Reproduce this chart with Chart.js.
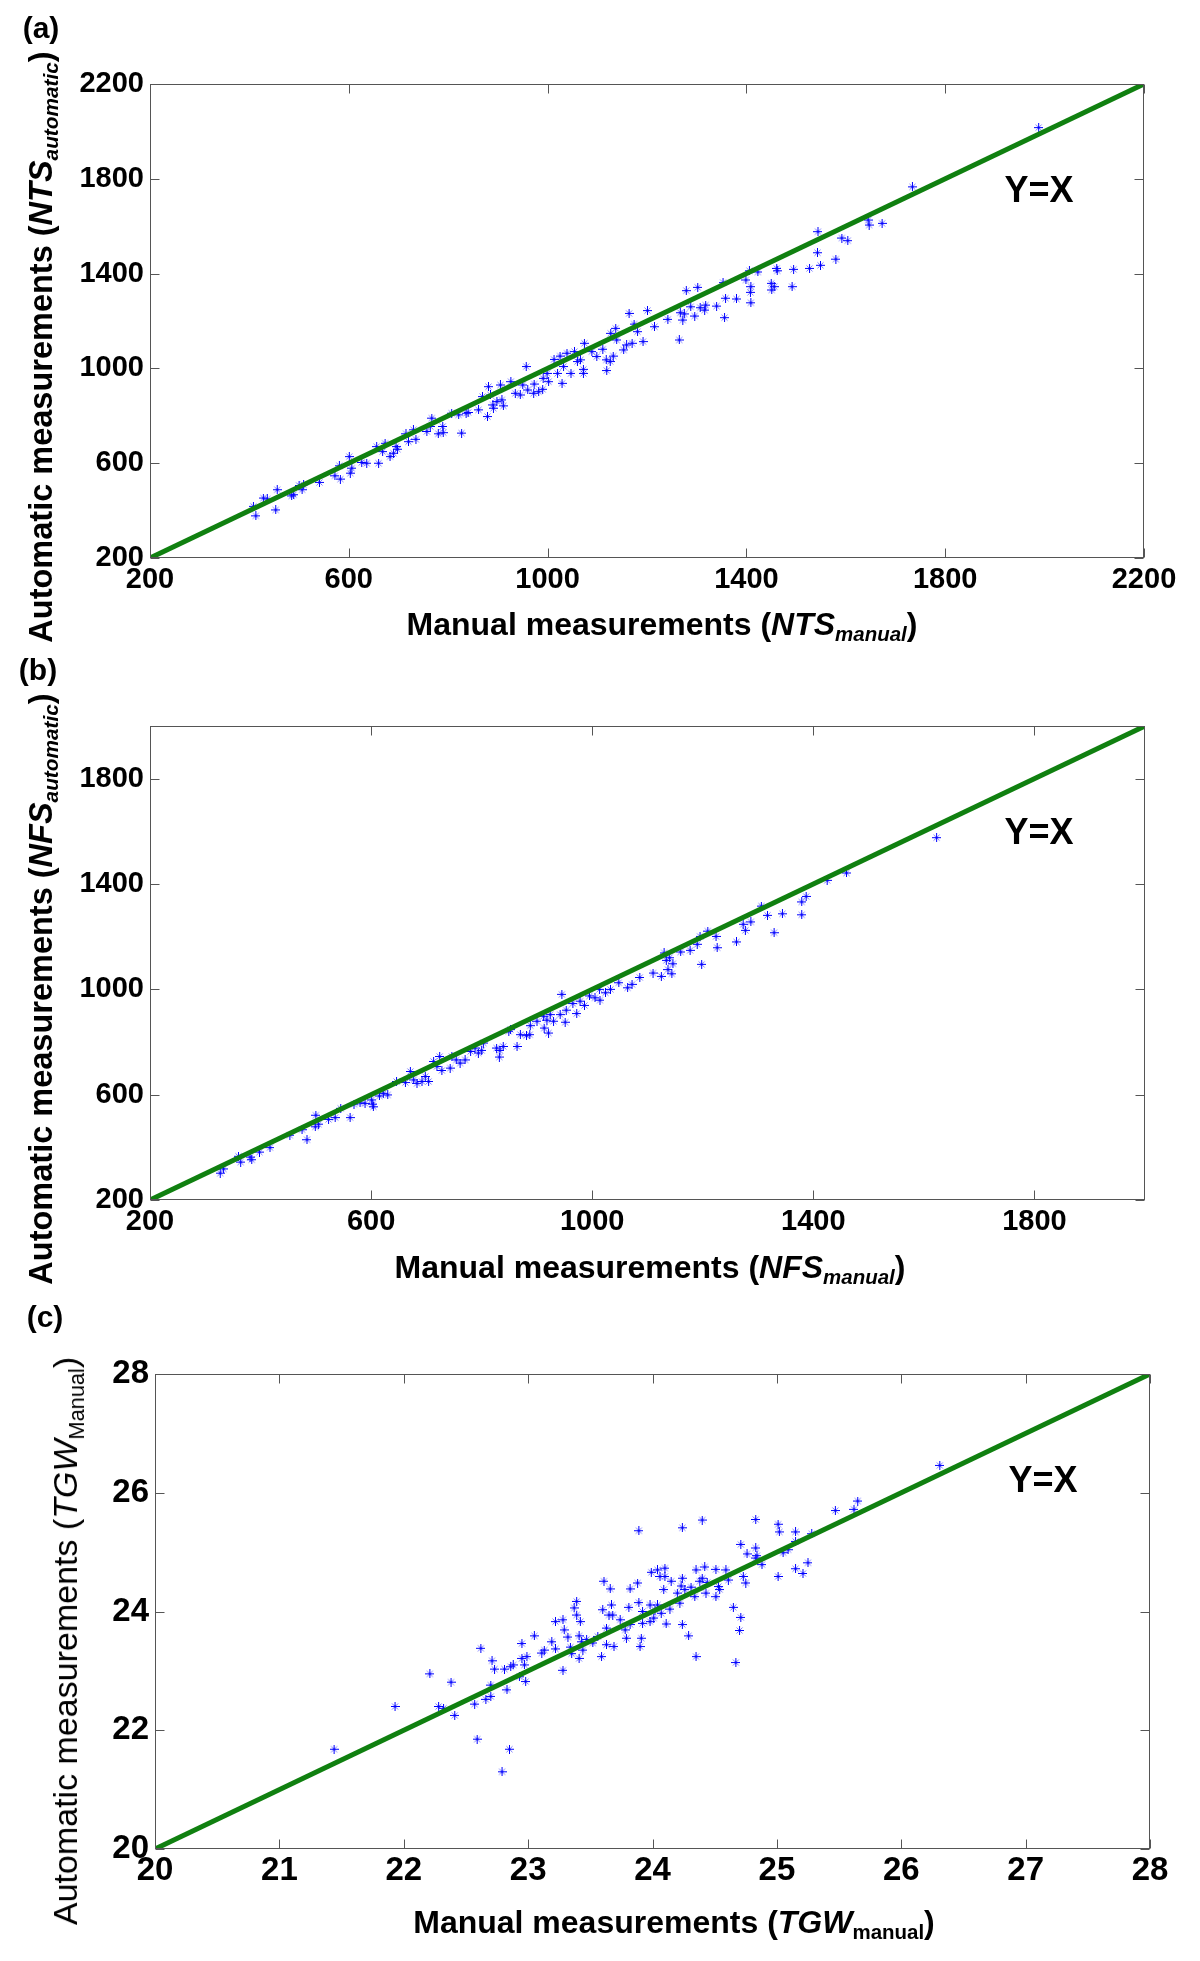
<!DOCTYPE html>
<html><head><meta charset="utf-8">
<script src="https://cdn.jsdelivr.net/npm/chart.js@4.4.0/dist/chart.umd.min.js"></script>
<style>
html,body{margin:0;padding:0;background:#fff;}
#page{position:relative;width:1200px;height:1961px;overflow:hidden;font-family:'Liberation Sans',Arial,sans-serif;background:#fff;}
canvas{position:absolute;left:0;}
.t{position:absolute;white-space:nowrap;color:#000;line-height:1;}
.c{transform:translate(-50%,-50%);}
.r{transform:translate(-50%,-50%) rotate(-90deg);}
.b{font-weight:bold;}
sub{font-size:0.64em;vertical-align:-0.3em;line-height:0;}
</style></head><body>
<div id="page">
<canvas id="ca" width="1200" height="660" style="top:0;width:1200px;height:660px"></canvas>
<canvas id="cb" width="1200" height="640" style="top:660px;width:1200px;height:640px"></canvas>
<canvas id="cc" width="1200" height="661" style="top:1300px;width:1200px;height:661px"></canvas>

<div class="t c b" style="left:41px;top:28px;font-size:30px">(a)</div>
<div class="t c b" style="left:38px;top:670px;font-size:30px">(b)</div>
<div class="t c b" style="left:45px;top:1317px;font-size:30px">(c)</div>

<div class="t r b" style="left:41px;top:347px;font-size:32.5px">Automatic measurements (<i>NTS</i><sub><i>automatic</i></sub>)</div>
<div class="t c b" style="left:662px;top:624px;font-size:32px">Manual measurements (<i>NTS</i><sub><i>manual</i></sub>)</div>
<div class="t c b" style="left:1039px;top:190px;font-size:36px">Y=X</div>

<div class="t r b" style="left:41px;top:989px;font-size:32.5px">Automatic measurements (<i>NFS</i><sub><i>automatic</i></sub>)</div>
<div class="t c b" style="left:650px;top:1267px;font-size:32px">Manual measurements (<i>NFS</i><sub><i>manual</i></sub>)</div>
<div class="t c b" style="left:1039px;top:832px;font-size:36px">Y=X</div>

<div class="t r" style="left:65px;top:1641px;font-size:34px">Automatic measurements (<i>TGW</i><sub>Manual</sub>)</div>
<div class="t c b" style="left:674px;top:1922px;font-size:32px">Manual measurements (<i>TGW</i><sub>manual</sub>)</div>
<div class="t c b" style="left:1043px;top:1480px;font-size:36px">Y=X</div>
</div>
<script>
// ---------- DATA ----------
const ntsManual = [408,413,428,436,453,456,485,489,500,506,509,541,572,581,583,601,603,606,626,636,660,656,668,673,683,690,695,698,715,720,730,735,757,764,767,780,789,790,807,821,827,836,840,861,869,879,881,885,890,891,898,905,908,911,926,935,945,950,957,960,972,973,982,990,991,999,1002,1013,1020,1025,1029,1032,1039,1047,1054,1060,1066,1072,1072,1074,1089,1099,1111,1118,1119,1126,1127,1132,1137,1139,1153,1159,1164,1170,1174,1181,1192,1201,1215,1242,1265,1267,1272,1275,1279,1288,1296,1302,1307,1316,1318,1340,1353,1356,1358,1380,1399,1406,1408,1409,1409,1423,1450,1451,1456,1461,1462,1492,1495,1527,1544,1543,1549,1580,1592,1604,1647,1645,1673,1734,1988];
const ntsAutomatic = [418,378,453,449,403,488,462,467,506,488,509,519,547,589,533,628,558,579,603,600,600,670,649,684,628,642,670,659,724,691,741,701,734,755,790,724,755,729,811,804,727,811,814,825,881,797,923,888,846,832,860,930,867,842,944,895,888,930,1008,909,895,934,902,912,958,979,944,1038,979,1052,937,1008,1064,979,1071,1029,1036,996,979,1106,1071,1050,1081,1036,991,1029,1148,1052,1169,1120,1078,1099,1232,1106,1187,1155,1113,1244,1176,1207,1120,1235,1204,1230,1328,1260,1221,1342,1256,1246,1267,1263,1362,1214,1296,1293,1373,1412,1321,1345,1277,1407,1359,1331,1345,1422,1412,1345,1418,1422,1577,1488,1435,1461,1550,1539,1605,1626,1612,1766,2016];

const nfsManual = [327,333,360,364,381,384,398,417,453,475,484,499,500,505,523,535,545,562,569,580,589,601,603,604,615,622,630,646,662,671,677,683,692,698,704,713,719,724,728,743,746,754,761,770,780,788,794,800,803,827,833,832,839,849,852,864,870,881,887,888,900,912,913,918,921,924,930,942,945,951,953,965,972,978,986,995,1005,1014,1013,1024,1033,1048,1064,1072,1086,1110,1125,1130,1134,1137,1140,1144,1146,1160,1177,1190,1198,1195,1209,1226,1224,1261,1273,1277,1287,1306,1317,1329,1344,1379,1379,1387,1425,1460,1623];
const nfsAutomatic = [302,318,366,344,363,353,382,399,446,467,429,478,522,488,506,513,548,513,564,569,567,580,564,554,595,605,599,650,646,688,656,643,650,669,650,726,707,745,692,701,745,732,720,732,764,777,758,768,796,777,768,743,783,841,847,783,828,824,828,862,879,898,853,883,834,904,879,904,981,875,921,946,908,955,939,975,968,959,1000,987,1000,1025,1006,1019,1045,1062,1049,1138,1110,1075,1120,1059,1097,1142,1148,1171,1095,1201,1221,1158,1201,1180,1247,1224,1256,1316,1281,1215,1287,1332,1283,1353,1414,1442,1576];

const tgwManual = [21.44,21.93,22.21,22.28,22.32,22.38,22.41,22.57,22.59,22.62,22.66,22.70,22.70,22.71,22.73,22.79,22.81,22.83,22.85,22.86,22.88,22.95,22.95,22.97,22.98,22.99,22.93,23.05,23.11,23.13,23.19,23.22,23.22,23.28,23.28,23.29,23.32,23.34,23.35,23.37,23.39,23.39,23.41,23.41,23.42,23.43,23.44,23.47,23.52,23.56,23.59,23.60,23.61,23.63,23.63,23.65,23.66,23.67,23.68,23.69,23.74,23.78,23.79,23.81,23.82,23.82,23.88,23.89,23.90,23.91,23.92,23.92,23.98,23.98,23.99,24.01,24.02,24.04,24.04,24.06,24.07,24.09,24.10,24.10,24.11,24.14,24.15,24.20,24.22,24.23,24.24,24.24,24.26,24.29,24.31,24.34,24.35,24.35,24.38,24.40,24.42,24.43,24.44,24.51,24.51,24.53,24.54,24.59,24.61,24.65,24.67,24.70,24.71,24.73,24.75,24.76,24.24,24.40,24.71,24.83,24.83,24.83,24.84,24.88,25.01,25.02,25.01,25.05,25.09,25.15,25.15,25.15,25.21,25.25,25.28,25.47,25.62,25.65,26.31,23.89];
const tgwAutomatic = [21.68,22.40,22.95,22.40,22.37,22.81,22.25,22.44,21.85,23.38,22.52,22.76,22.57,23.17,23.03,21.30,23.03,22.68,21.68,23.07,23.10,23.46,23.21,23.10,22.82,23.24,22.90,23.59,23.30,23.35,23.49,23.37,23.83,23.86,23.01,23.69,23.57,23.40,23.29,24.06,24.17,23.94,23.59,23.21,23.83,23.49,23.35,23.53,23.47,23.58,23.24,24.03,24.51,23.72,23.44,23.94,24.38,24.11,23.94,23.41,23.86,23.69,23.55,24.07,23.78,24.38,24.48,24.15,23.41,23.55,24.00,23.80,24.11,23.83,24.66,23.89,24.02,24.70,24.11,24.59,23.97,24.37,24.73,24.59,23.79,24.04,24.51,24.31,24.14,24.43,24.56,23.78,24.37,23.59,24.41,24.25,24.70,23.24,24.51,24.56,24.75,24.31,24.49,24.71,24.25,24.42,24.37,24.70,24.53,24.07,23.14,23.68,23.90,24.59,24.48,24.97,25.41,25.54,25.13,25.55,25.07,24.90,24.94,24.79,25.47,25.34,24.59,24.99,25.04,25.34,24.72,25.18,24.64,24.82,25.31,25.70,25.72,25.86,26.46,25.36];

const rangeA = [200, 2200];
const rangeB = [200, 2000];
const rangeC = [20, 28];
const xTicksA = [200, 600, 1000, 1400, 1800, 2200];
const yTicksA = [200, 600, 1000, 1400, 1800, 2200];
const xTicksB = [200, 600, 1000, 1400, 1800];
const yTicksB = [200, 600, 1000, 1400, 1800];
const xTicksC = [20, 21, 22, 23, 24, 25, 26, 27, 28];
const yTicksC = [20, 22, 24, 26, 28];

// ---------- RENDERING ----------
function makeMarker(){
  const c = document.createElement('canvas'); c.width = 9; c.height = 9;
  const g = c.getContext('2d');
  g.lineWidth = 1;
  g.strokeStyle = 'rgba(30,30,255,0.6)';
  g.beginPath(); g.moveTo(1.5,1.5); g.lineTo(7.5,7.5); g.moveTo(7.5,1.5); g.lineTo(1.5,7.5); g.stroke();
  g.strokeStyle = '#0000ff';
  g.beginPath(); g.moveTo(0,4.5); g.lineTo(9,4.5); g.moveTo(4.5,0); g.lineTo(4.5,9); g.stroke();
  return c;
}
const marker = makeMarker();

const boxPlugin = {
  id: 'matlabBox',
  afterDatasetsDraw(chart){
    const {ctx, chartArea: a, scales: {x, y}} = chart;
    const L = 9;
    ctx.save();
    ctx.strokeStyle = '#555'; ctx.lineWidth = 1;
    const l = Math.round(a.left) + 0.5, r = Math.round(a.right) - 0.5, t = Math.round(a.top) + 0.5, b = Math.round(a.bottom) - 0.5;
    ctx.strokeRect(l, t, r - l, b - t);
    ctx.beginPath();
    x.ticks.forEach(tk => {
      const px = Math.round(x.getPixelForValue(tk.value)) + 0.5;
      ctx.moveTo(px, b); ctx.lineTo(px, b - L);
      ctx.moveTo(px, t); ctx.lineTo(px, t + L);
    });
    y.ticks.forEach(tk => {
      const py = Math.round(y.getPixelForValue(tk.value)) + 0.5;
      ctx.moveTo(l, py); ctx.lineTo(l + L, py);
      ctx.moveTo(r, py); ctx.lineTo(r - L, py);
    });
    ctx.stroke();
    ctx.restore();
  }
};

function build(id, xs, ys, range, xt, yt, padding, fs, xpad){
  const tickFont = {family: "'Liberation Sans', Arial, sans-serif", size: fs, weight: 'bold'};
  const pts = xs.map((v, i) => ({x: v, y: ys[i]}));
  const diag = [{x: range[0], y: range[0]}, {x: range[1], y: range[1]}];
  new Chart(document.getElementById(id), {
    type: 'scatter',
    data: {datasets: [
      {type: 'line', data: diag, borderColor: 'rgb(16,128,16)', borderWidth: 5, pointRadius: 0, order: 0, fill: false},
      {type: 'scatter', data: pts, pointStyle: marker, pointRadius: 4.5, order: 1}
    ]},
    options: {
      responsive: false, animation: false, devicePixelRatio: 1,
      layout: {padding: padding},
      plugins: {legend: {display: false}, tooltip: {enabled: false}},
      scales: {
        x: {type: 'linear', min: range[0], max: range[1],
            afterBuildTicks: s => { s.ticks = xt.map(v => ({value: v})); },
            afterFit: s => { s.height = 60; },
            grid: {display: false, drawTicks: false}, border: {display: false},
            ticks: {font: tickFont, color: '#000', padding: xpad, maxRotation: 0, autoSkip: false, callback: v => String(v)}},
        y: {type: 'linear', min: range[0], max: range[1],
            afterBuildTicks: s => { s.ticks = yt.map(v => ({value: v})); },
            afterFit: s => { s.width = 120; },
            grid: {display: false, drawTicks: false}, border: {display: false},
            ticks: {font: tickFont, color: '#000', padding: 6, autoSkip: false, callback: v => String(v)}}
      }
    },
    plugins: [boxPlugin]
  });
}

build('ca', ntsManual, ntsAutomatic, rangeA, xTicksA, yTicksA, {left: 30, right: 56, top: 84, bottom: 42}, 29, 5);
build('cb', nfsManual, nfsAutomatic, rangeB, xTicksB, yTicksB, {left: 30, right: 55, top: 66, bottom: 40}, 29, 5);
build('cc', tgwManual, tgwAutomatic, rangeC, xTicksC, yTicksC, {left: 35, right: 50, top: 74, bottom: 52}, 33, 2);
</script>
</body></html>
